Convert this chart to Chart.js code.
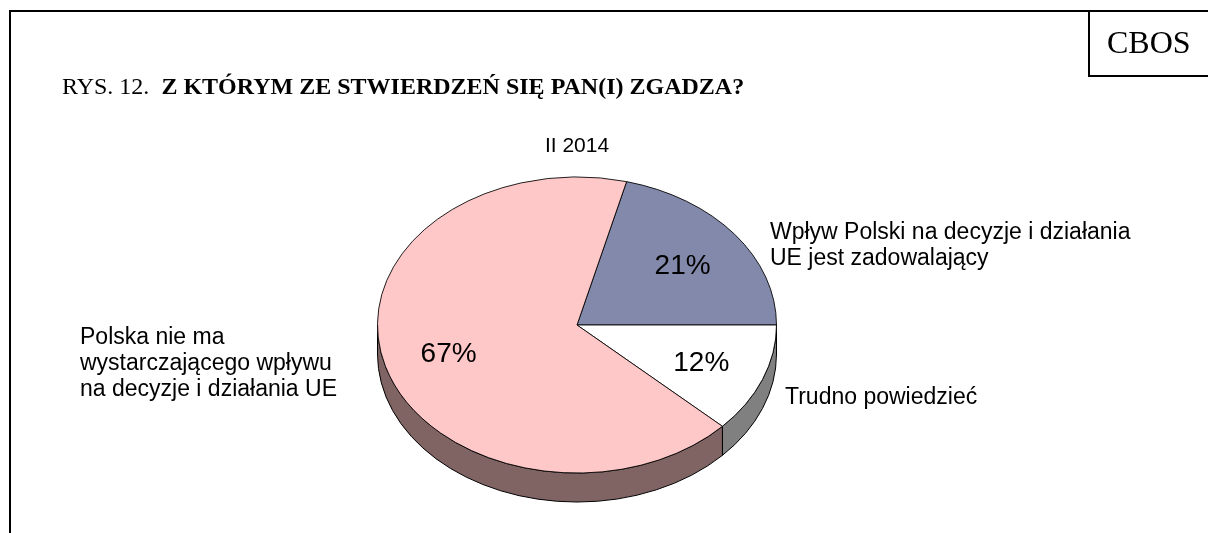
<!DOCTYPE html>
<html>
<head>
<meta charset="utf-8">
<script src="https://cdn.jsdelivr.net/npm/chart.js@4"></script>
<style>
  body { margin: 0; background: #fff; }
  #page { position: relative; width: 1208px; height: 533px; overflow: hidden; background: #fff; }
  #frame { position: absolute; left: 9px; top: 10px; width: 1300px; height: 600px; border-left: 2px solid #000; border-top: 2px solid #000; }
  #cbos { position: absolute; left: 1088px; top: 10px; width: 140px; height: 63px; border: 2px solid #000; font: 32px "Liberation Serif", serif; line-height: 60px; padding-left: 17px; }
  #title { position: absolute; left: 62px; top: 74px; font: 24px "Liberation Serif", serif; line-height: 24px; white-space: pre; }
  #title b { font-weight: bold; }
  #sub { position: absolute; left: 477px; width: 200px; top: 133px; text-align: center; font: 21px "Liberation Sans", Arial, sans-serif; }
  .lbl { position: absolute; font: 23px "Liberation Sans", Arial, sans-serif; line-height: 26px; white-space: pre; }
  canvas { position: absolute; left: 0; top: 0; }
</style>
</head>
<body>
<div id="page">
  <canvas id="pie" width="1208" height="533"></canvas>
  <div id="frame"></div>
  <div id="cbos">CBOS</div>
  <div id="title">RYS. 12.  <b>Z KTÓRYM ZE STWIERDZEŃ SIĘ PAN(I) ZGADZA?</b></div>
  <div id="sub">II 2014</div>
</div>
<script>
// dane z wykresu
const labels = [
  'Wpływ Polski na decyzje i działania\nUE jest zadowalający',
  'Trudno powiedzieć',
  'Polska nie ma\nwystarczającego wpływu\nna decyzje i działania UE'
];
const values = [21, 12, 67];
const topColors = ['#8389aa', '#ffffff', '#ffc8c8'];
const sideColors = ['#4a4e66', '#808080', '#806464'];

// ustawienia wyglądu 3D
const squash = 0.742;
const depth = 29;
const labelPos = [[770, 218], [785, 383], [80, 323]];

// etykiety kategorii jako tekst HTML
const page = document.getElementById('page');
labels.forEach((txt, i) => {
  const d = document.createElement('div');
  d.className = 'lbl';
  d.textContent = txt;
  d.style.left = labelPos[i][0] + 'px';
  d.style.top = labelPos[i][1] + 'px';
  page.appendChild(d);
});

const pie3d = {
  id: 'pie3d',
  beforeDatasetsDraw(chart) {
    const ctx = chart.ctx;
    const meta = chart.getDatasetMeta(0);
    const first = meta.data[0];
    const cx = first.x, cy = first.y;
    // boki tortu (tylko widoczna, dolna połowa)
    meta.data.forEach((arc, i) => {
      const r = arc.outerRadius;
      for (let k = -1; k <= 1; k++) {
        const a = Math.max(arc.startAngle + k * 2 * Math.PI, 0);
        const b = Math.min(arc.endAngle + k * 2 * Math.PI, Math.PI);
        if (a >= b) continue;
        ctx.save();
        ctx.beginPath();
        ctx.ellipse(cx, cy, r, r * squash, 0, a, b);
        ctx.ellipse(cx, cy + depth, r, r * squash, 0, b, a, true);
        ctx.closePath();
        ctx.fillStyle = sideColors[i];
        ctx.fill();
        ctx.lineWidth = 1;
        ctx.strokeStyle = '#000';
        ctx.stroke();
        ctx.restore();
      }
    });
    // spłaszczenie wierzchu
    ctx.save();
    ctx.translate(cx, cy);
    ctx.scale(1, squash);
    ctx.translate(-cx, -cy);
  },
  afterDatasetsDraw(chart) {
    const ctx = chart.ctx;
    ctx.restore();
    const meta = chart.getDatasetMeta(0);
    ctx.save();
    ctx.fillStyle = '#000';
    ctx.font = '28px "Liberation Sans", Arial, sans-serif';
    ctx.textAlign = 'center';
    ctx.textBaseline = 'middle';
    meta.data.forEach((arc, i) => {
      const mid = (arc.startAngle + arc.endAngle) / 2;
      const r = arc.outerRadius * 0.67;
      ctx.fillText(values[i] + '%', arc.x + Math.cos(mid) * r, arc.y + Math.sin(mid) * r * squash + 2);
    });
    ctx.restore();
  }
};

new Chart(document.getElementById('pie'), {
  type: 'pie',
  data: {
    labels: labels,
    datasets: [{
      data: values,
      backgroundColor: topColors,
      borderColor: '#000',
      borderWidth: 1
    }]
  },
  options: {
    responsive: false,
    animation: false,
    events: [],
    rotation: 14.4,
    layout: { padding: { left: 377, right: 431, top: 125, bottom: 8 } },
    plugins: {
      legend: { display: false },
      tooltip: { enabled: false },
      title: { display: false }
    }
  },
  plugins: [pie3d]
});
</script>
</body>
</html>
